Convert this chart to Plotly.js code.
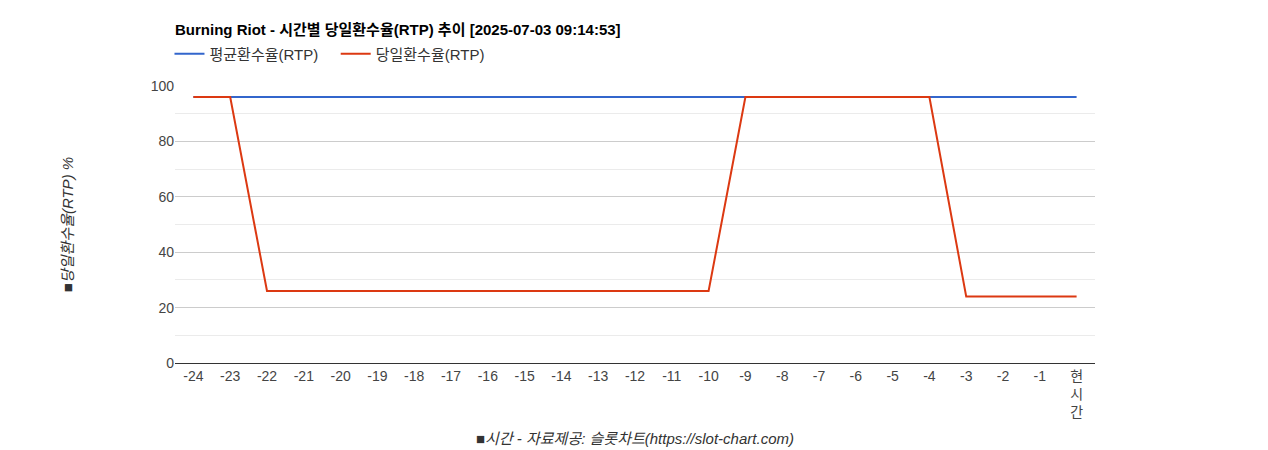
<!DOCTYPE html>
<html><head><meta charset="utf-8">
<script src="https://cdn.plot.ly/plotly-3.0.1.min.js"></script>
<style>body{margin:0;background:#fff}#chart{width:1268px;height:450px}</style>
</head><body><div id="chart"></div>
<script>
const categories = ['-24','-23','-22','-21','-20','-19','-18','-17','-16','-15','-14','-13','-12','-11','-10','-9','-8','-7','-6','-5','-4','-3','-2','-1','현<br>시<br>간'];
const avgRTP = [96,96,96,96,96,96,96,96,96,96,96,96,96,96,96,96,96,96,96,96,96,96,96,96,96];
const dayRTP = [96,96,26,26,26,26,26,26,26,26,26,26,26,26,26,96,96,96,96,96,96,24,24,24,24];
const FONT = 'Arial, "Liberation Sans", "Noto Sans CJK KR", sans-serif';
const traces = [
  {x: categories, y: avgRTP, name: '평균환수율(RTP)&nbsp;&nbsp;&nbsp;', type: 'scatter', mode: 'lines', line: {color: '#3366cc', width: 2}},
  {x: categories, y: dayRTP, name: '당일환수율(RTP)', type: 'scatter', mode: 'lines', line: {color: '#dc3912', width: 2}}
];
const layout = {
  width: 1268, height: 450,
  margin: {l: 175, r: 173, t: 86, b: 87},
  paper_bgcolor: '#fff', plot_bgcolor: '#fff',
  font: {family: FONT, size: 14, color: '#444'},
  title: {text: '<b>Burning Riot - 시간별 당일환수율(RTP) 추이 [2025-07-03 09:14:53]</b>', x: 175/1268, xanchor: 'left', y: 1 - 30/450, yanchor: 'middle', font: {family: FONT, size: 15, color: '#000'}},
  showlegend: true,
  legend: {orientation: 'h', x: -0.006, xanchor: 'left', y: (363-54)/277, yanchor: 'middle', font: {family: FONT, size: 15, color: '#333'}, bgcolor: 'rgba(0,0,0,0)'},
  xaxis: {
    type: 'category', range: [-0.5, 24.5], showgrid: false, zeroline: false,
    showline: true, linecolor: '#333', linewidth: 1, ticks: '',
    tickfont: {family: FONT, size: 14, color: '#444'}, tickangle: 0,
    title: {text: '<i>■시간 - 자료제공: 슬롯차트(https://slot-chart.com)</i>', font: {family: FONT, size: 15, color: '#333'}, standoff: 14}
  },
  yaxis: {
    range: [0, 100], dtick: 20, showgrid: true, gridcolor: '#ccc', zeroline: false,
    tickfont: {family: FONT, size: 14, color: '#444'}, ticks: '',
    minor: {dtick: 10, showgrid: true, gridcolor: '#ebebeb'},
    title: {text: '<i>■당일환수율(RTP) %</i>', font: {family: FONT, size: 15, color: '#333'}, standoff: 73}
  }
};
Plotly.newPlot('chart', traces, layout, {displayModeBar: false, responsive: false});
</script></body></html>
